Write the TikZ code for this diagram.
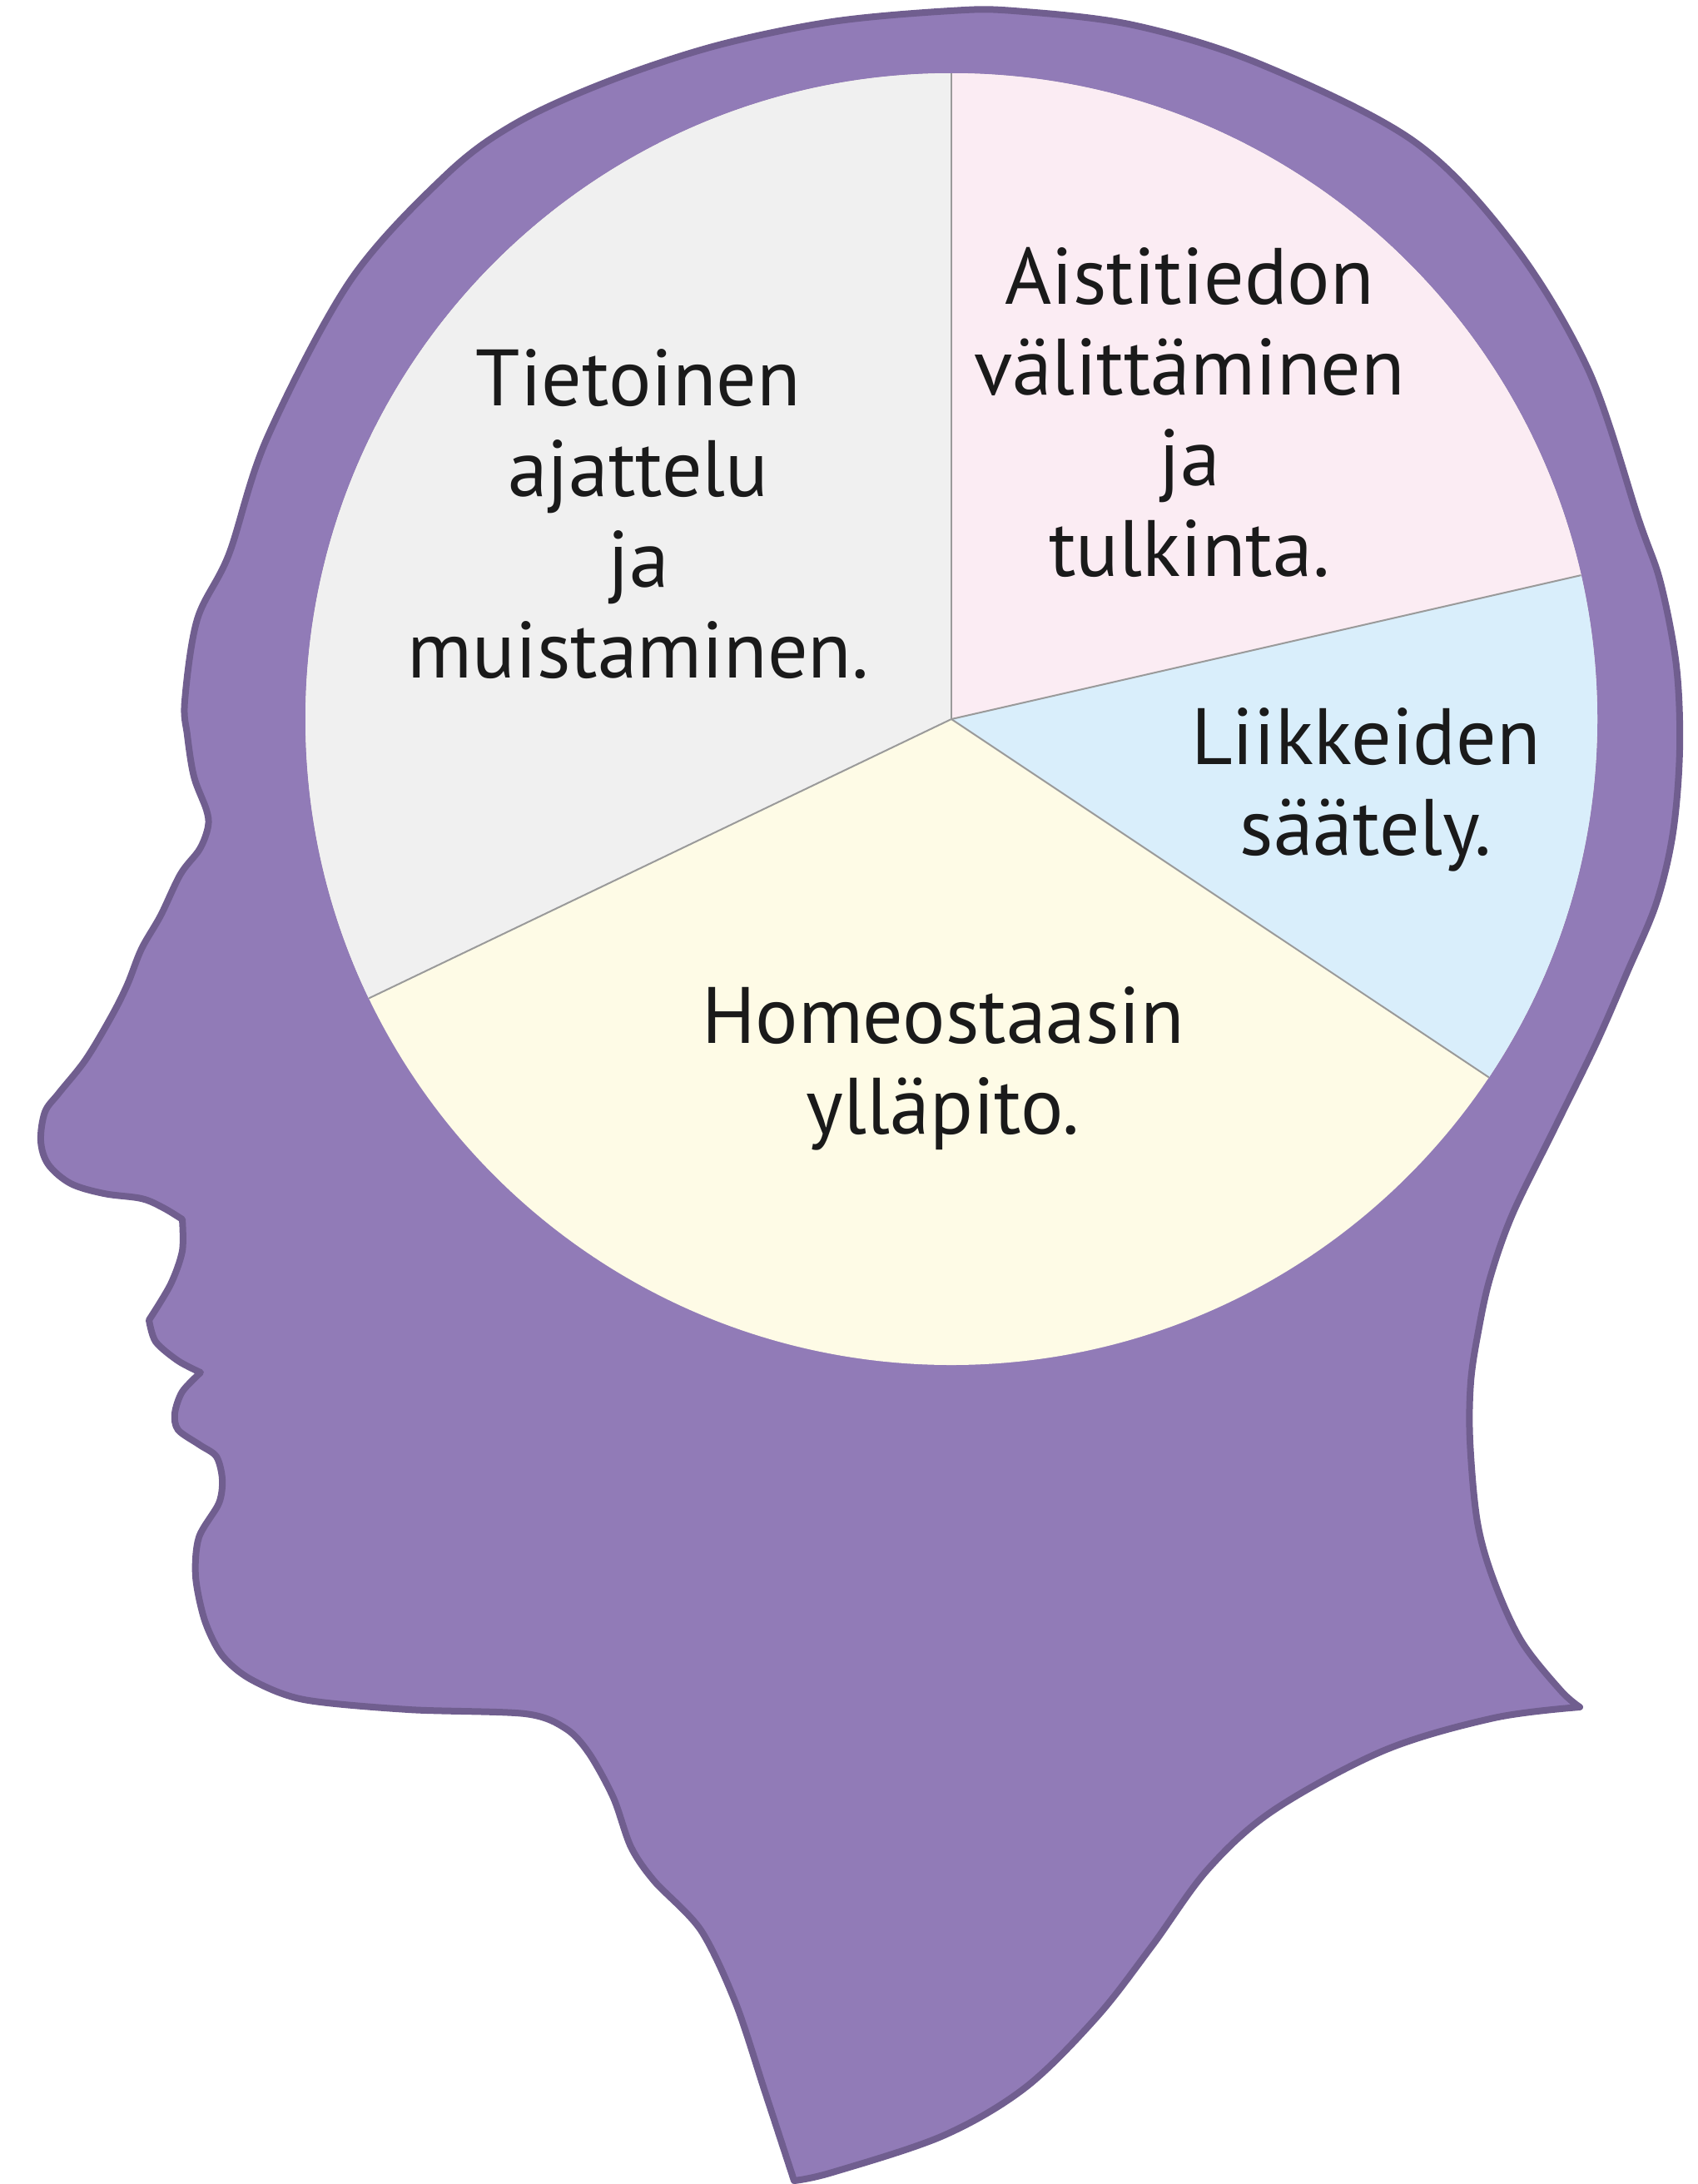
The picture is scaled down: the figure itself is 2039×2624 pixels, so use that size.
\documentclass[tikz,border=0pt]{standalone}
\usepackage{fontspec}
\setmainfont{PT Sans}
\begin{document}
\definecolor{headfill}{HTML}{917BB7}
\definecolor{headline}{HTML}{705E8F}
\definecolor{secgray}{HTML}{F0F0F0}
\definecolor{secpink}{HTML}{FBECF3}
\definecolor{secblue}{HTML}{D9EEFB}
\definecolor{secyellow}{HTML}{FEFBE6}
\definecolor{divider}{HTML}{9A9A9A}
\definecolor{labeltext}{HTML}{1A1A1A}
\begin{tikzpicture}[x=0.25pt,y=-0.25pt,
  head/.style={fill=headfill,draw=headline,line width=2pt,line join=round},
  divline/.style={draw=divider,line width=0.5pt},
  lbl/.style={text=labeltext,align=center,anchor=base,inner sep=0pt,
    font=\fontsize{24}{27.2}\selectfont}]
\useasboundingbox (0,0) rectangle (2039,2624);

% head silhouette, facing left
\draw[head]
  plot[smooth,tension=0.55] coordinates {
    (1898,2051) (1875,2031) (1828,1972) (1795,1900) (1775,1829) (1766,1731)
    (1767,1660) (1776,1600) (1790,1536) (1817,1459) (1867,1357) (1917,1255)
    (1955,1168) (1990,1085) (2010,1000) (2018,900) (2014,800) (1995,700)
    (1969,625) (1909,446) (1819,295) (1699,170) (1514,77) (1361,30)
    (1218,13) (1142,13) (1000,26) (860,55) (730,98) (620,148) (536,210)
    (421,337) (321,526) (275,666) (237,744) (222,842) (225,883) (233,933)
    (248,973) (250,993) (240,1020) (217,1050) (193,1100) (170,1140)
    (153,1183) (134,1221) (103,1273) (71,1313) (54,1336) (49,1371) (58,1399)
    (85,1422) (125,1434) (170,1440) (196,1451) (219,1465)}
  -- plot[smooth,tension=0.5] coordinates {
    (219,1465) (219,1503) (205,1543) (179,1586)}
  -- plot[smooth,tension=0.5] coordinates {
    (179,1586) (187,1612) (214,1635) (241,1649)}
  -- plot[smooth,tension=0.5] coordinates {
    (241,1649) (219,1672) (210,1698) (214,1718) (240,1736) (260,1750)
    (267,1777) (263,1806) (239,1847) (235,1894) (246,1947) (267,1989)
    (302,2018) (365,2042) (491,2054) (631,2059) (680,2077) (708,2107)
    (737,2160) (758,2219) (786,2260) (842,2319) (884,2407) (919,2513)
    (954,2620)}
  -- plot[smooth,tension=0.55] coordinates {
    (954,2620) (1000,2610) (1133,2566) (1232,2508) (1318,2423) (1384,2338)
    (1451,2246) (1530,2175) (1663,2103) (1795,2064) (1898,2051)}
  -- cycle;

% the divided circle
\coordinate (C) at (1143,864);
\coordinate (pTop) at (1143,88);
\coordinate (pRight) at (1899.5,691.1);
\coordinate (pLowRight) at (1788.7,1294.4);
\coordinate (pLowLeft) at (443.2,1199.4);

\fill[secyellow] (C) circle[radius=776];
\begin{scope}
  \clip (C) circle[radius=776];
  \fill[secgray] (C) -- (1143,-1000) -- (-1000,-1000) -- (-1000,1891) -- cycle;
  \fill[secpink] (C) -- (1143,-1000) -- (3000,-1000) -- (3000,440) -- cycle;
  \fill[secblue] (C) -- (3000,440) -- (3000,2102) -- cycle;
\end{scope}

\draw[divline] (C) -- (pTop);
\draw[divline] (C) -- (pRight);
\draw[divline] (C) -- (pLowRight);
\draw[divline] (C) -- (pLowLeft);

% labels (anchored at the baseline of their last line)
\node[lbl] (think) at (767,814) {Tietoinen\\ajattelu\\ja\\muistaminen.};
\node[lbl] (sense) at (1429,692) {Aistitiedon\\välittäminen\\ja\\tulkinta.};
\node[lbl] (move) at (1641,1027) {Liikkeiden\\säätely.};
\node[lbl] (homeo) at (1133,1362) {Homeostaasin\\ylläpito.};
\end{tikzpicture}
\end{document}
